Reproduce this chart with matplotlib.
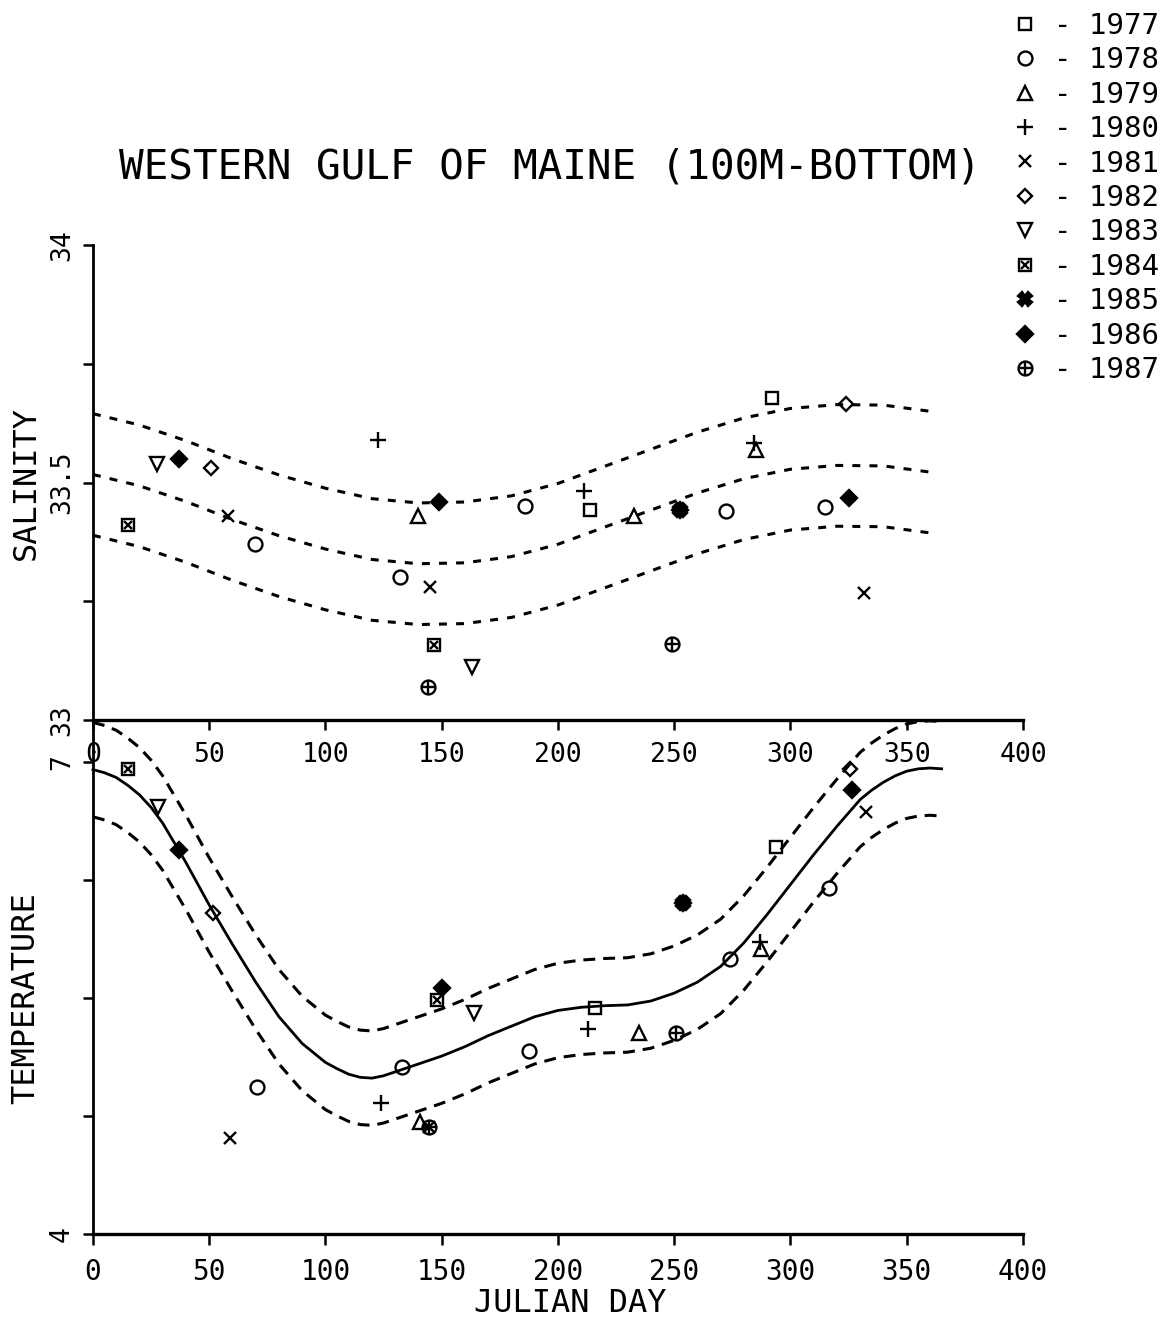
import numpy as np
import matplotlib.pyplot as plt
from matplotlib.lines import Line2D
from matplotlib.legend_handler import HandlerTuple

plt.rcParams['font.family'] = ['DejaVu Sans Mono', 'DejaVu Sans']

years = ['1977', '1978', '1979', '1980', '1981', '1982',
         '1983', '1984', '1985', '1986', '1987']

# salinity at 100m-bottom, one entry per observation
sal_year = ['1977', '1977',
            '1978', '1978', '1978', '1978', '1978',
            '1979', '1979', '1979',
            '1980', '1980', '1980',
            '1981', '1981', '1981',
            '1982', '1982',
            '1983', '1983',
            '1984', '1984',
            '1985',
            '1986', '1986', '1986', '1986',
            '1987', '1987']
sal_day = [213.9, 292.2,
           69.5, 131.9, 185.9, 272.1, 314.8,
           139.8, 232.5, 285.3,
           122.5, 211.0, 284.2,
           58.0, 144.8, 331.7,
           50.9, 323.8,
           27.4, 163.2,
           15.2, 146.7,
           252.3,
           36.8, 148.8, 252.3, 325.1,
           144.2, 249.0]
sal_value = [33.442, 33.677,
             33.371, 33.302, 33.451, 33.440, 33.449,
             33.429, 33.429, 33.568,
             33.589, 33.482, 33.583,
             33.429, 33.281, 33.267,
             33.531, 33.665,
             33.540, 33.112,
             33.411, 33.158,
             33.442,
             33.549, 33.460, 33.442, 33.468,
             33.070, 33.159]

# temperature at 100m-bottom
temp_year = ['1977', '1977',
             '1978', '1978', '1978', '1978', '1978',
             '1979', '1979', '1979',
             '1980', '1980', '1980',
             '1981', '1981', '1981',
             '1982', '1982',
             '1983', '1983',
             '1984', '1984',
             '1985',
             '1986', '1986', '1986', '1986',
             '1987', '1987']
temp_day = [216.1, 293.7,
            70.5, 132.8, 187.6, 273.8, 316.6,
            140.5, 234.7, 287.5,
            123.7, 212.8, 286.8,
            59.1, 144.5, 332.5,
            51.6, 325.6,
            28.1, 163.9,
            15.2, 148.1,
            253.7,
            37.2, 150.3, 253.7, 326.3,
            144.5, 250.6]
temp_value = [5.437, 6.460,
              4.935, 5.058, 5.164, 5.745, 6.196,
              4.713, 5.274, 5.808,
              4.830, 5.300, 5.856,
              4.607, 4.681, 6.682,
              6.041, 6.952,
              6.714, 5.402,
              6.952, 5.486,
              6.100,
              6.439, 5.560, 6.100, 6.820,
              4.681, 5.274]

# seasonal mean curves and +/- one standard deviation
sal_fit_day = [0, 20, 40, 60, 80, 100, 120, 140, 160, 180,
               200, 220, 240, 260, 280, 300, 320, 340, 360]
sal_fit = [33.517, 33.493, 33.460, 33.422, 33.388, 33.360, 33.338, 33.329, 33.331, 33.344,
           33.370, 33.406, 33.442, 33.478, 33.508, 33.528, 33.536, 33.535, 33.522]
sal_sd = 0.128

temp_fit_day = [0, 5, 10, 15, 20, 25, 30, 40, 50, 60, 70, 80, 90, 100, 105, 110, 115,
                120, 125, 130, 140, 150, 160, 170, 180, 190, 200, 210, 220, 230, 240,
                250, 260, 270, 280, 290, 300, 310, 320, 330, 335, 340, 345, 350, 355,
                360, 365]
temp_fit = [6.95, 6.93, 6.90, 6.85, 6.79, 6.71, 6.61, 6.36, 6.09, 5.84, 5.60, 5.38, 5.21,
            5.09, 5.05, 5.015, 4.995, 4.99, 5.005, 5.03, 5.08, 5.13, 5.19, 5.26, 5.32,
            5.38, 5.42, 5.44, 5.45, 5.455, 5.48, 5.53, 5.60, 5.70, 5.85, 6.03, 6.22,
            6.41, 6.59, 6.76, 6.82, 6.87, 6.91, 6.94, 6.955, 6.96, 6.955]
temp_sd = 0.30

# plotter-style symbols for each year (some are two symbols overprinted)
symbols = {
    '1977': [dict(marker='s', ms=9, mfc='none')],
    '1978': [dict(marker='o', ms=10, mfc='none')],
    '1979': [dict(marker='^', ms=10, mfc='none')],
    '1980': [dict(marker='+', ms=11)],
    '1981': [dict(marker='x', ms=9)],
    '1982': [dict(marker='D', ms=7, mfc='none')],
    '1983': [dict(marker='v', ms=10, mfc='none')],
    '1984': [dict(marker='s', ms=9, mfc='none'), dict(marker='x', ms=6)],
    '1985': [dict(marker='X', ms=10, mfc='k')],
    '1986': [dict(marker='D', ms=8, mfc='k')],
    '1987': [dict(marker='o', ms=10, mfc='none'), dict(marker='+', ms=10)],
}

fig = plt.figure(figsize=(11.75, 13.26), dpi=100)
ax1 = fig.add_axes([0.0791, 0.4570, 0.7915, 0.3582])
ax2 = fig.add_axes([0.0791, 0.0694, 0.7915, 0.3876])


def draw_points(ax, yr_list, days, vals):
    yr_arr = np.array(yr_list)
    days = np.array(days)
    vals = np.array(vals)
    for yr in years:
        m = yr_arr == yr
        for st in symbols[yr]:
            ax.plot(days[m], vals[m], ls='none', color='k', mec='k', mew=1.7, **st)


# salinity panel
d = np.array(sal_fit_day)
s = np.array(sal_fit)
for curve in (s + sal_sd, s, s - sal_sd):
    ax1.plot(d, curve, color='k', lw=2.2, ls=(0, (2.6, 3.0)))
draw_points(ax1, sal_year, sal_day, sal_value)
ax1.set_xlim(0, 400)
ax1.set_ylim(33, 34)
ax1.set_xticks(np.arange(0, 401, 50))
ax1.set_yticks([33, 33.25, 33.5, 33.75, 34])
ax1.set_yticklabels(['33', '', '33.5', '', '34'], rotation=90, va='center')
ax1.tick_params(axis='x', direction='out', length=7, width=1.8, labelsize=19, pad=9)
ax1.tick_params(axis='y', direction='out', length=7, width=1.8, labelsize=19, pad=6)

# temperature panel
d = np.array(temp_fit_day)
t = np.array(temp_fit)
ax2.plot(d, t, color='k', lw=2.0, clip_on=False)
for curve in (t + temp_sd, t - temp_sd):
    ax2.plot(d, curve, color='k', lw=2.2, ls=(0, (3.9, 2.6)), clip_on=False)
draw_points(ax2, temp_year, temp_day, temp_value)
ax2.set_xlim(0, 400)
ax2.set_ylim(4, 7.265)
ax2.set_xticks(np.arange(0, 401, 50))
ax2.set_yticks([4, 4.75, 5.5, 6.25, 7])
ax2.set_yticklabels(['4', '', '', '', '7'], rotation=90, va='center')
ax2.tick_params(axis='x', direction='out', length=8, width=1.8, labelsize=20, pad=9)
ax2.tick_params(axis='y', direction='out', length=7, width=1.8, labelsize=19, pad=6)

for ax in (ax1, ax2):
    ax.spines['top'].set_visible(False)
    ax.spines['right'].set_visible(False)
    ax.spines['left'].set_linewidth(2.0)
    ax.spines['bottom'].set_linewidth(2.4)
    ax.patch.set_alpha(0)

fig.text(0.468, 0.874, 'WESTERN GULF OF MAINE (100M-BOTTOM)', fontsize=29.5,
         ha='center', va='center')
fig.text(26 / 1175, 1 - 483 / 1326, 'SALINITY', fontsize=23, rotation=90,
         ha='center', va='center')
fig.text(26 / 1175, 1 - 998 / 1326, 'TEMPERATURE', fontsize=23, rotation=90,
         ha='center', va='center')
fig.text(570 / 1175, 1 - 1303 / 1326, 'JULIAN DAY', fontsize=23,
         ha='center', va='center')

# year legend in the top right corner
handles = []
for yr in years:
    hs = tuple(Line2D([], [], ls='none', color='k', mec='k', mew=1.7, **st)
               for st in symbols[yr])
    handles.append(hs)
fig.legend(handles, ['- ' + yr for yr in years], loc='upper left',
           bbox_to_anchor=(1010 / 1175, 1 - 12 / 1326), frameon=False,
           handlelength=1.0, handletextpad=0.5, labelspacing=0.22, borderpad=0,
           borderaxespad=0, prop={'size': 21},
           handler_map={tuple: HandlerTuple(ndivide=1, pad=0)})

plt.savefig('out.png', dpi=100)
